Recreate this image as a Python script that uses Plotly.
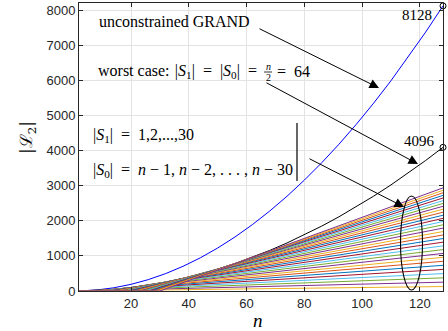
import plotly.graph_objects as go

# ---- data -------------------------------------------------------------
# block length samples for the two quadratic curves
n_samples = [2, 8, 14, 20, 26, 32, 38, 44, 50, 56, 62, 68, 74, 80, 86, 92,
             98, 104, 110, 116, 122, 128]
# unconstrained GRAND: all weight-2 patterns
L2_unconstrained = [1, 28, 91, 190, 325, 496, 703, 946, 1225, 1540, 1891, 2278,
                    2701, 3160, 3655, 4186, 4753, 5356, 5995, 6670, 7381, 8128]
# worst case |S1| = |S0| = n/2
L2_worst = [1, 16, 49, 100, 169, 256, 361, 484, 625, 784, 961, 1156, 1369,
            1600, 1849, 2116, 2401, 2704, 3025, 3364, 3721, 4096]

# constrained cases: |S1| = k, |S0| = n - k ; zero until n = k, linear after
s1_sizes = list(range(1, 31))
L2_at_128 = [127, 252, 375, 496, 615, 732, 847, 960, 1071, 1180, 1287, 1392,
             1495, 1596, 1695, 1792, 1887, 1980, 2071, 2160, 2247, 2332, 2415,
             2496, 2575, 2652, 2727, 2800, 2871, 2940]
n_max = 128

x_ticks = [20, 40, 60, 80, 100, 120]
y_ticks = [0, 1000, 2000, 3000, 4000, 5000, 6000, 7000, 8000]

# MATLAB default colour order
matlab_colors = ["#0072BD", "#D95319", "#EDB120", "#7E2F8E",
                 "#77AC30", "#4DBEEE", "#A2142F"]

fig = go.Figure()

fig.add_trace(go.Scatter(x=n_samples, y=L2_unconstrained, mode="lines",
                         line=dict(color="#0000FF", width=1), showlegend=False))
fig.add_trace(go.Scatter(x=n_samples, y=L2_worst, mode="lines",
                         line=dict(color="#000000", width=1), showlegend=False))

for i, (k, yend) in enumerate(zip(s1_sizes, L2_at_128)):
    fig.add_trace(go.Scatter(x=[0, k, n_max], y=[0, 0, yend], mode="lines",
                             line=dict(color=matlab_colors[(i + 2) % 7], width=1),
                             showlegend=False))

# end-point markers
fig.add_trace(go.Scatter(x=[n_max, n_max], y=[L2_unconstrained[-1], L2_worst[-1]],
                         mode="markers", cliponaxis=False,
                         marker=dict(symbol="circle-open", size=6,
                                     color="#000000", line=dict(width=1)),
                         showlegend=False))

# ---- layout helpers (pixel -> paper) ------------------------------------
X0, X1, Y0, Y1 = 79, 443, 3, 291


def px(x):
    return (x - X0) / (X1 - X0)


def py(y):
    return (Y1 - y) / (Y1 - Y0)


serif = "Liberation Serif"
ann = []
EN = "\u2002"
SP3 = "\u2004"


def text(x, y, s, size=15, xanchor="left"):
    ann.append(dict(x=px(x), y=py(y), xref="paper", yref="paper", text=s,
                    showarrow=False, xanchor=xanchor, yanchor="middle",
                    font=dict(family=serif, size=size, color="#000000")))


def arrow(hx, hy, tx, ty):
    ann.append(dict(x=px(hx), y=py(hy), xref="paper", yref="paper", text="",
                    showarrow=True, ax=tx - hx, ay=ty - hy, axref="pixel",
                    ayref="pixel", arrowhead=2, arrowsize=1.9, arrowwidth=1,
                    arrowcolor="#000000", standoff=0, startstandoff=0))


S1 = "|<i>S</i><sub>1</sub>|"
S0 = "|<i>S</i><sub>0</sub>|"

text(97, 22, "unconstrained GRAND", size=16)
text(96, 71, f"worst case:{SP3}{S1}{EN}={EN}{S0}{EN}={SP3}", size=16)
text(268, 66, "<i>n</i>", size=10, xanchor="center")
text(268, 78, "2", size=10, xanchor="center")
text(275, 71, f"={EN}64", size=16)
text(91, 135, f"{S1}{EN}={EN}1,2,...,30", size=16)
text(91, 170, f"{S0}{EN}={EN}<i>n</i> − 1, <i>n</i> − 2, . . . , <i>n</i> − 30", size=16)
text(434, 15, "8128", size=15, xanchor="right")
text(437, 141, "4096", size=15, xanchor="right")

arrow(379, 88, 258, 28)
arrow(418, 164, 265, 82)
arrow(404, 207, 308, 158)

# axis titles
ann.append(dict(x=px(258), y=py(320), xref="paper", yref="paper",
                text="<i>n</i>", showarrow=False, xanchor="center",
                yanchor="middle", font=dict(family=serif, size=19, color="#000")))
ann.append(dict(x=px(27), y=py(138), xref="paper", yref="paper",
                text="|ℒ<sub>2</sub>|", showarrow=False, textangle=-90,
                xanchor="center", yanchor="middle",
                font=dict(family="DejaVu Serif", size=17, color="#000")))

shapes = [
    # bracket next to the constrained-case labels
    dict(type="line", xref="paper", yref="paper", x0=px(297), x1=px(297),
         y0=py(123), y1=py(181), line=dict(color="#000", width=1.2)),
    # fraction bar
    dict(type="line", xref="paper", yref="paper", x0=px(264), x1=px(272),
         y0=py(72), y1=py(72), line=dict(color="#000", width=0.8)),
    # ellipse around the family of lines
    dict(type="circle", xref="paper", yref="paper", x0=px(400.5), x1=px(422.5),
         y0=py(290), y1=py(196), line=dict(color="#000", width=1.1)),
]

axis_common = dict(showline=True, linecolor="#262626", linewidth=1,
                   mirror="ticks", ticks="inside", ticklen=4, tickcolor="#262626",
                   showgrid=True, gridcolor="#E3E3E3", gridwidth=1,
                   zeroline=False,
                   tickfont=dict(family="Liberation Sans", size=13, color="#262626"))

fig.update_layout(
    width=448, height=331,
    margin=dict(l=X0, r=448 - X1, t=Y0, b=331 - Y1),
    paper_bgcolor="white", plot_bgcolor="white",
    xaxis=dict(range=[2, 128], tickvals=x_ticks, **axis_common),
    yaxis=dict(range=[0, 8210], tickvals=y_ticks, **axis_common),
    annotations=ann, shapes=shapes,
)

fig.write_html("out.html")
